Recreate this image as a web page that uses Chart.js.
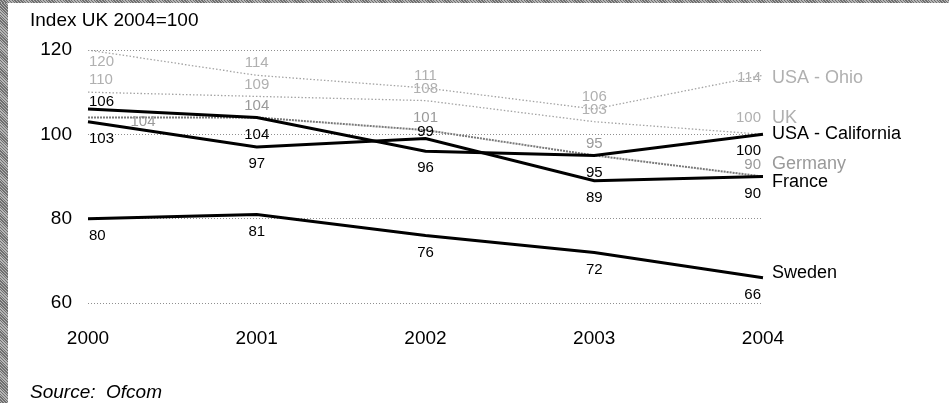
<!DOCTYPE html>
<html>
<head>
<meta charset="utf-8">
<script src="https://cdn.jsdelivr.net/npm/chart.js@4/dist/chart.umd.min.js"></script>
<style>
  body { margin: 0; background: #fff; }
  #wrap { position: relative; width: 949px; height: 403px; overflow: hidden; font-family: "Liberation Sans", Arial, sans-serif; }
  #chart { position: absolute; left: 0; top: 0; }
  .edge-left { position: absolute; left: 0; top: 0; width: 8px; height: 403px; background: repeating-linear-gradient(45deg, #6f6f6f 0 1px, #b5b5b5 1px 2px); }
  .edge-top { position: absolute; left: 0; top: 0; width: 949px; height: 3px; background: repeating-linear-gradient(45deg, #6f6f6f 0 1px, #b5b5b5 1px 2px); }
  #title { position: absolute; left: 30px; top: 10px; font-size: 19px; line-height: 19px; color: #000; }
  #source { position: absolute; left: 30px; top: 382px; font-size: 19px; line-height: 19px; font-style: italic; color: #000; }
</style>
</head>
<body>
<div id="wrap">
  <canvas id="chart" width="949" height="403"></canvas>
  <div class="edge-left"></div>
  <div class="edge-top"></div>
  <div id="title">Index UK 2004=100</div>
  <div id="source">Source:&nbsp; Ofcom</div>
</div>
<script>
const years = ["2000", "2001", "2002", "2003", "2004"];
const yTicks = [60, 80, 100, 120];

const usaOhio = [120, 114, 111, 106, 114];
const uk = [110, 109, 108, 103, 100];
const usaCalifornia = [106, 104, 96, 95, 100];
const germany = [104, 104, 101, 95, 90];
const france = [103, 97, 99, 89, 90];
const sweden = [80, 81, 76, 72, 66];

// look of each line; faint ones sit under the heavy ones
const series = [
  { name: "USA - Ohio", data: usaOhio, line: "#a4a4a4", width: 1.3, dash: [1.5, 2], text: "#b0b0b0", faint: true, nameDy: 3 },
  { name: "UK", data: uk, line: "#a4a4a4", width: 1.3, dash: [1.5, 2], text: "#b0b0b0", faint: true, nameDy: -16 },
  { name: "USA - California", data: usaCalifornia, line: "#000", width: 3, dash: [], text: "#000", faint: false, nameDy: 0 },
  { name: "Germany", data: germany, line: "#7a7a7a", width: 2, dash: [2, 1], text: "#9a9a9a", faint: true, nameDy: -12 },
  { name: "France", data: france, line: "#000", width: 3, dash: [], text: "#000", faint: false, nameDy: 6 },
  { name: "Sweden", data: sweden, line: "#000", width: 3, dash: [], text: "#000", faint: false, nameDy: -5 }
];

// heavy-line labels that go above their point instead of below
const labelAbove = { "USA - California": [0], "France": [2] };
// labels nudged sideways to keep clear of crowded points: [dx, dy]
const labelNudge = { "Germany": { 0: [55, 4] } };

const pointLabels = {
  id: "pointLabels",
  afterDatasetsDraw(chart) {
    const ctx = chart.ctx;
    const top = chart.chartArea.top;
    ctx.save();
    ctx.textBaseline = "middle";
    series.forEach((s, i) => {
      const pts = chart.getDatasetMeta(i).data;
      const last = pts[pts.length - 1];
      const nameY = last.y + s.nameDy;
      ctx.fillStyle = s.text;
      ctx.font = "15px 'Liberation Sans', Arial, sans-serif";
      pts.forEach((p, j) => {
        const txt = String(s.data[j]);
        let x = p.x, y;
        ctx.textAlign = "center";
        if (j === 0) {
          ctx.textAlign = "left";
          x = p.x + 1;
        } else if (j === pts.length - 1) {
          ctx.textAlign = "right";
          x = p.x - 2;
        }
        if (s.faint) {
          y = (j === pts.length - 1) ? nameY : p.y - 12;
          if (y < top + 4) y = p.y + 12;
        } else {
          const above = (labelAbove[s.name] || []).includes(j);
          y = above ? p.y - 7 : p.y + 17;
        }
        const nudge = (labelNudge[s.name] || {})[j];
        if (nudge) {
          x = p.x + nudge[0];
          y = p.y + nudge[1];
          ctx.textAlign = "center";
        }
        ctx.fillText(txt, x, y);
      });
      ctx.textAlign = "left";
      ctx.font = "18px 'Liberation Sans', Arial, sans-serif";
      ctx.fillText(s.name, last.x + 9, nameY);
    });
    ctx.restore();
  }
};

new Chart(document.getElementById("chart"), {
  type: "line",
  data: {
    labels: years,
    datasets: series.map((s) => ({
      label: s.name,
      data: s.data,
      borderColor: s.line,
      borderWidth: s.width,
      borderDash: s.dash,
      pointRadius: 0,
      tension: 0,
      fill: false,
      order: s.faint ? 1 : 0
    }))
  },
  options: {
    responsive: false,
    animation: false,
    layout: { padding: { left: 0, top: 50, right: 186, bottom: 0 } },
    plugins: { legend: { display: false }, tooltip: { enabled: false } },
    scales: {
      x: {
        offset: false,
        grid: { display: false },
        border: { display: false },
        ticks: { color: "#000", font: { size: 19, family: "'Liberation Sans', Arial, sans-serif" }, padding: 16 },
        afterFit(scale) { scale.height = 100; }
      },
      y: {
        min: 60,
        max: 120,
        afterBuildTicks(scale) { scale.ticks = yTicks.map((v) => ({ value: v })); },
        grid: { color: "#8f8f8f", lineWidth: 1, drawTicks: false },
        border: { display: false, dash: [1, 2] },
        ticks: { color: "#000", font: { size: 19, family: "'Liberation Sans', Arial, sans-serif" }, padding: 16 },
        afterFit(scale) { scale.width = 88; }
      }
    }
  },
  plugins: [pointLabels]
});
</script>
</body>
</html>
